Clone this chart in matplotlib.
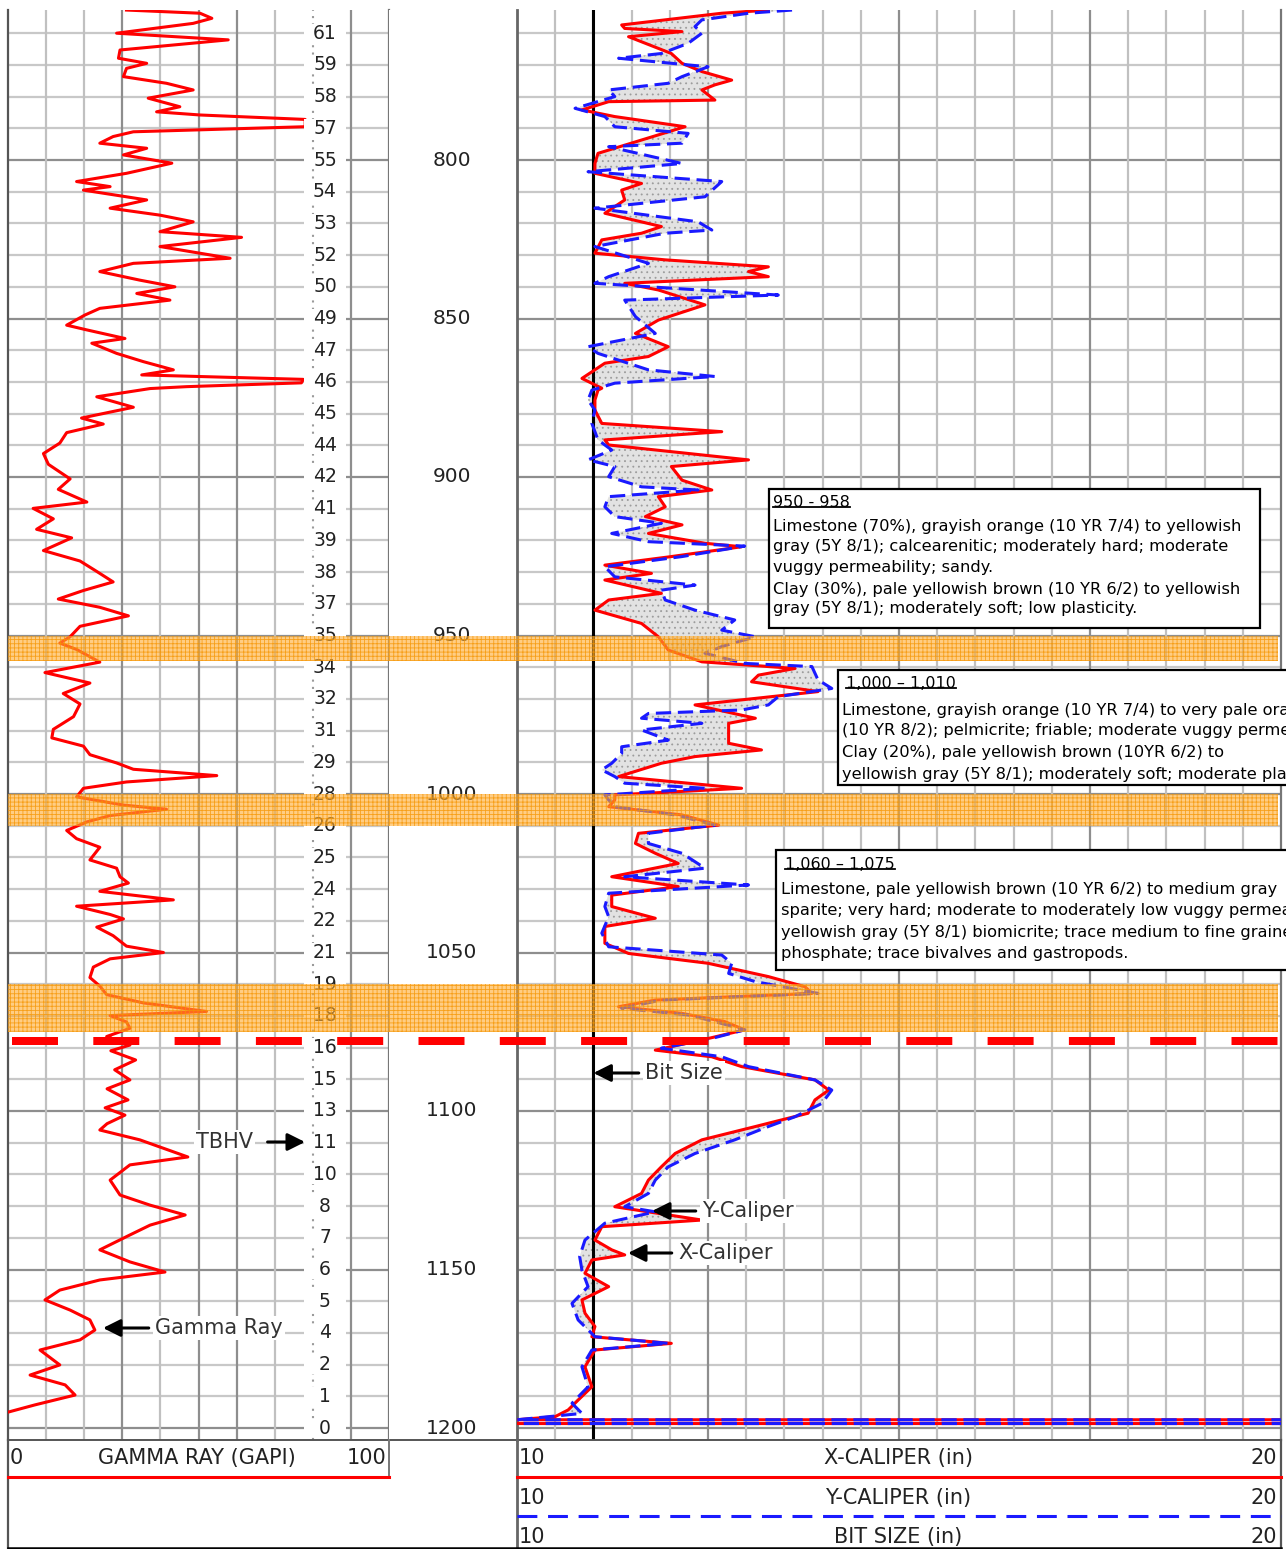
import numpy as np
import matplotlib
matplotlib.use("Agg")
import matplotlib.pyplot as plt
import matplotlib.transforms as mtransforms
from matplotlib.lines import Line2D
from matplotlib.patches import Rectangle, Polygon

plt.rcParams['font.family'] = ['DejaVu Sans']
plt.rcParams['hatch.linewidth'] = 0.6

# ---------------------------------------------------------------- data
DEPTH_LABELS = [800, 850, 900, 950, 1000, 1050, 1100, 1150, 1200]
GRID_DEPTHS = list(range(760, 1201, 10))
ELEV_LABELS = [61, 59, 58, 57, 55, 54, 53, 52, 50, 49, 47, 46, 45, 44, 42,
               41, 39, 38, 37, 35, 34, 32, 31, 29, 28, 26, 25, 24, 22, 21,
               19, 18, 16, 15, 13, 11, 10, 8, 7, 6, 5, 4, 2, 1, 0]

GR_DEPTH = [752.7, 753.7, 755.3, 756.9, 760.0, 762.1, 765.3, 767.9, 769.5, 771.1,
            773.7, 775.8, 777.9, 780.5, 783.2, 784.8, 785.8, 787.2, 789.5, 791.1,
            792.6, 794.7, 796.3, 798.4, 801.0, 804.2, 806.8, 808.4, 809.5, 812.6,
            815.2, 817.4, 819.5, 822.6, 824.4, 827.3, 831.0, 832.6, 835.2, 837.9,
            840.0, 842.1, 844.2, 846.8, 848.9, 852.1, 853.6, 856.3, 857.8, 861.0,
            863.6, 866.2, 867.8, 869.2, 870.3, 871.5, 872.1, 874.7, 878.0, 881.4,
            883.3, 886.0, 889.3, 892.6, 896.0, 900.6, 903.9, 907.9, 909.9, 913.2,
            916.5, 919.2, 923.2, 926.5, 929.8, 933.1, 935.8, 938.5, 941.1, 943.8,
            947.1, 950.4, 952.4, 954.4, 958.4, 961.7, 965.0, 968.3, 971.6, 975.6,
            979.6, 982.3, 984.9, 987.6, 990.2, 992.2, 994.2, 996.2, 998.2, 1000.9,
            1003.5, 1004.8, 1006.8, 1008.8, 1011.5, 1014.1, 1016.8, 1020.8, 1023.4, 1026.1,
            1028.1, 1030.7, 1033.4, 1035.4, 1038.0, 1039.4, 1042.0, 1044.7, 1048.0, 1050.0,
            1052.0, 1054.6, 1057.9, 1060.6, 1063.3, 1065.9, 1068.6, 1069.9, 1071.9, 1073.9,
            1076.5, 1079.2, 1081.0, 1083.9, 1087.0, 1090.2, 1093.0, 1096.5, 1099.0, 1101.3,
            1104.0, 1106.0, 1109.1, 1114.5, 1117.0, 1121.8, 1126.5, 1129.7, 1132.8, 1136.0,
            1139.1, 1143.8, 1147.6, 1150.8, 1153.3, 1156.5, 1159.6, 1162.8, 1165.9, 1169.1,
            1172.2, 1175.4, 1180.1, 1183.3, 1186.4, 1189.6, 1192.7, 1195.0]
GR_API = [31.1, 50.4, 53.5, 48.6, 28.5, 57.8, 29.4, 29.0, 36.4, 31.1,
          30.3, 41.6, 48.6, 36.8, 45.1, 39.0, 50.4, 78.0, 78.0, 32.9,
          27.6, 24.1, 36.4, 30.3, 43.0, 31.1, 18.0, 26.8, 19.8, 36.4,
          26.8, 39.9, 48.6, 39.9, 61.3, 39.9, 58.3, 32.9, 24.1, 34.6,
          43.8, 33.8, 42.5, 24.1, 20.2, 15.4, 20.7, 30.7, 22.0, 28.5,
          35.5, 43.4, 35.1, 77.5, 77.0, 46.9, 37.3, 23.3, 32.9, 19.3,
          25.0, 15.4, 13.6, 9.3, 10.6, 16.3, 13.2, 20.7, 6.6, 11.9,
          7.5, 16.7, 9.3, 18.9, 23.3, 27.6, 19.8, 13.2, 24.1, 31.6,
          18.9, 16.3, 13.6, 18.0, 24.1, 9.7, 21.5, 14.5, 18.9, 17.2,
          11.9, 11.5, 19.8, 21.5, 28.5, 32.9, 54.8, 31.1, 19.8, 18.0,
          30.3, 41.6, 26.8, 20.7, 15.4, 18.0, 24.1, 21.5, 28.5, 29.4,
          31.6, 24.1, 43.4, 18.0, 26.8, 30.3, 23.3, 27.6, 31.1, 40.8,
          26.8, 22.4, 21.5, 24.1, 25.9, 35.5, 52.1, 26.8, 31.1, 32.0,
          25.9, 32.0, 27.0, 33.5, 28.0, 32.0, 26.0, 31.5, 25.5, 30.7,
          26.0, 24.1, 34.6, 47.2, 32.0, 26.8, 29.4, 37.3, 46.5, 37.3,
          32.0, 24.1, 32.0, 41.2, 24.1, 13.6, 9.7, 16.3, 21.5, 22.8,
          18.9, 8.4, 13.6, 5.8, 15.0, 17.6, 7.1, 0.0]

XCAL_DEPTH = [752.7, 753.7, 757.4, 758.5, 759.5, 761.1, 762.7, 766.4, 769.5, 772.1,
              774.8, 776.3, 777.9, 781.1, 781.6, 784.2, 786.3, 789.5, 793.7, 797.9,
              801.1, 804.2, 807.4, 809.5, 812.6, 816.8, 821.0, 823.1, 825.2, 829.4,
              831.5, 833.7, 835.2, 836.8, 838.9, 841.0, 845.7, 850.5, 854.7, 858.9,
              862.0, 864.1, 868.9, 872.0, 872.6, 875.7, 878.9, 883.1, 885.7, 888.3,
              889.9, 894.6, 896.7, 901.0, 904.1, 906.2, 909.4, 912.5, 915.1, 917.8,
              920.9, 922.0, 925.1, 927.8, 930.4, 932.5, 936.7, 938.8, 942.0, 946.2,
              950.4, 954.6, 958.3, 960.4, 962.5, 964.6, 967.7, 971.9, 976.1, 977.7,
              984.0, 986.1, 988.2, 990.3, 994.5, 998.2, 1000.3, 1001.9, 1004.0, 1006.6,
              1009.8, 1012.4, 1015.6, 1018.7, 1021.9, 1026.1, 1029.2, 1031.9, 1035.5, 1039.2,
              1041.8, 1047.1, 1050.3, 1053.4, 1057.6, 1060.8, 1062.9, 1065.0, 1067.1, 1069.2,
              1071.8, 1074.4, 1077.6, 1080.8, 1082.9, 1086.0, 1090.2, 1093.4, 1096.5, 1100.7,
              1104.9, 1109.1, 1113.4, 1117.6, 1121.8, 1126.0, 1130.2, 1134.4, 1136.5, 1140.7,
              1143.8, 1145.4, 1147.0, 1151.2, 1155.4, 1159.6, 1163.8, 1168.0, 1171.2, 1173.3,
              1175.4, 1180.7, 1187.0, 1191.2, 1194.3, 1196.4, 1197.4, 1197.4, 1198.6, 1198.6]
XCAL_IN = [13.29, 12.68, 11.37, 11.41, 12.16, 11.46, 11.63, 12.02, 12.16, 12.42,
           12.81, 12.59, 12.42, 12.59, 11.20, 10.85, 11.28, 12.20, 11.63, 11.06,
           11.02, 11.02, 11.63, 11.37, 11.41, 11.15, 11.89, 11.63, 11.11, 11.02,
           11.94, 13.29, 13.03, 13.29, 11.41, 11.85, 12.46, 11.85, 11.55, 11.98,
           11.72, 11.15, 10.85, 11.11, 11.06, 11.02, 11.02, 11.11, 12.68, 11.15,
           11.20, 13.03, 12.02, 12.16, 12.55, 11.85, 11.94, 11.68, 12.16, 11.72,
           12.46, 12.94, 12.02, 11.15, 11.76, 11.15, 11.89, 11.20, 11.02, 11.63,
           11.85, 11.98, 12.42, 13.64, 13.16, 13.07, 13.94, 12.33, 13.12, 12.77,
           12.77, 13.20, 12.33, 11.89, 11.33, 12.94, 11.28, 11.28, 11.20, 12.16,
           12.64, 11.59, 11.55, 11.81, 12.11, 11.24, 12.11, 11.24, 11.24, 11.81,
           11.15, 11.15, 11.46, 12.50, 13.29, 13.77, 13.86, 11.81, 11.33, 12.16,
           12.72, 12.98, 12.42, 11.81, 12.55, 12.94, 13.90, 14.08, 13.90, 13.81,
           13.12, 12.42, 12.07, 11.89, 11.72, 11.63, 11.28, 12.42, 11.11, 11.02,
           11.24, 11.41, 10.98, 10.89, 11.20, 10.85, 10.89, 11.02, 10.98, 12.02,
           11.02, 10.89, 10.98, 10.80, 10.67, 10.50, 10.00, 20.80, 20.80, 10.00]

YCAL_DEPTH = [752.7, 753.7, 755.8, 757.9, 760.0, 763.2, 766.4, 767.9, 770.6, 773.7,
              775.8, 777.9, 780.0, 783.7, 786.3, 789.5, 791.6, 794.7, 795.8, 801.1,
              803.7, 806.8, 811.6, 815.2, 819.5, 822.1, 823.1, 827.3, 832.6, 836.8,
              838.9, 842.6, 844.2, 849.4, 854.7, 858.9, 861.0, 866.2, 868.3, 870.4,
              872.6, 875.7, 878.9, 883.1, 888.3, 891.5, 894.6, 896.7, 899.9, 903.1,
              904.1, 906.2, 909.4, 912.5, 914.6, 917.8, 920.4, 921.8, 925.1, 928.3,
              931.5, 934.1, 935.7, 938.8, 942.0, 945.1, 948.3, 950.4, 953.5, 955.6,
              958.8, 959.8, 964.0, 966.7, 969.3, 971.9, 973.5, 974.6, 976.1, 977.7,
              979.8, 983.0, 985.1, 987.2, 990.3, 992.4, 994.5, 996.6, 998.2, 1000.3,
              1001.9, 1004.0, 1006.6, 1009.8, 1012.4, 1015.6, 1018.7, 1023.4, 1026.1, 1028.7,
              1031.3, 1035.5, 1038.7, 1043.9, 1048.2, 1050.8, 1053.4, 1056.6, 1059.2, 1062.9,
              1065.0, 1067.6, 1069.7, 1071.8, 1074.4, 1077.1, 1080.2, 1082.9, 1086.0, 1090.2,
              1093.4, 1097.6, 1101.8, 1104.9, 1109.1, 1113.4, 1117.6, 1121.8, 1126.0, 1130.2,
              1131.8, 1135.4, 1140.7, 1145.9, 1150.2, 1155.4, 1160.7, 1165.9, 1171.2, 1173.3,
              1175.4, 1180.7, 1187.0, 1192.2, 1195.4, 1197.4, 1197.4, 1198.6, 1198.6]
YCAL_IN = [13.60, 13.03, 12.42, 12.33, 12.42, 12.24, 11.89, 11.33, 12.50, 12.16,
           11.98, 11.20, 11.28, 10.76, 11.15, 11.28, 12.24, 12.16, 11.20, 12.16,
           10.93, 12.68, 12.46, 11.02, 12.37, 12.55, 11.94, 11.02, 11.72, 11.20,
           11.02, 13.42, 11.41, 11.55, 11.81, 10.93, 11.06, 11.72, 12.59, 11.28,
           10.98, 10.93, 11.02, 10.98, 11.06, 11.24, 10.93, 11.28, 11.20, 11.63,
           12.37, 11.20, 11.15, 11.28, 11.89, 11.24, 11.72, 12.98, 12.16, 11.15,
           11.28, 12.33, 11.89, 11.94, 12.33, 12.85, 12.68, 13.12, 12.68, 12.46,
           12.98, 13.86, 13.94, 14.12, 13.42, 13.29, 12.94, 11.72, 11.63, 12.42,
           11.63, 11.98, 11.37, 11.37, 11.24, 11.11, 11.28, 11.41, 12.46, 11.15,
           11.20, 11.28, 12.07, 12.59, 11.72, 11.72, 12.16, 12.46, 11.41, 13.03,
           11.20, 11.15, 11.20, 11.11, 11.20, 12.68, 12.81, 12.77, 13.12, 13.94,
           11.89, 11.37, 12.24, 12.59, 12.98, 12.55, 11.89, 12.68, 13.03, 13.90,
           14.12, 13.99, 13.64, 13.29, 12.85, 12.33, 11.98, 11.81, 11.72, 11.41,
           11.81, 11.15, 10.89, 10.82, 10.85, 10.93, 10.72, 10.80, 11.02, 11.98,
           10.98, 10.85, 10.93, 10.72, 10.85, 10.00, 20.80, 20.80, 10.00]

BIT_SIZE_IN = 11.0
SAMPLED_ZONES = [(950, 958), (1000, 1010), (1060, 1075)]
TBHV_DEPTH = 1078.0

NOTE_TITLES = ["950 - 958", "1,000 \u2013 1,010", "1,060 \u2013 1,075"]
NOTE_LINES = [
    ["Limestone (70%), grayish orange (10 YR 7/4) to yellowish",
     "gray (5Y 8/1); calcearenitic; moderately hard; moderate",
     "vuggy permeability; sandy.",
     "Clay (30%), pale yellowish brown (10 YR 6/2) to yellowish",
     "gray (5Y 8/1); moderately soft; low plasticity."],
    ["Limestone, grayish orange (10 YR 7/4) to very pale orange",
     "(10 YR 8/2); pelmicrite; friable; moderate vuggy permeability;",
     "Clay (20%), pale yellowish brown (10YR 6/2) to",
     "yellowish gray (5Y 8/1); moderately soft; moderate plasticity."],
    ["Limestone, pale yellowish brown (10 YR 6/2) to medium gray",
     "sparite; very hard; moderate to moderately low vuggy permeability;",
     "yellowish gray (5Y 8/1) biomicrite; trace medium to fine grained",
     "phosphate; trace bivalves and gastropods."],
]

# ---------------------------------------------------------------- layout
W, H = 1286, 1549
fig = plt.figure(figsize=(W / 100, H / 100), dpi=100)
fig.patch.set_facecolor('white')


def fx(x):
    return x / W


def fy(y):
    return 1 - y / H


def cal_x(px):
    return 10 + (px - CAL_L) / 76.4


def dep(py):
    return 800 + (py - 160) / 3.17


def gr_x(px):
    return (px - GR_L) / 3.81


TOP_PX, BOT_PX = 10, 1440
GR_L, GR_R, CAL_L, CAL_R = 8, 389, 517, 1281
top_depth = dep(TOP_PX)
bot_depth = dep(BOT_PX)

ax_gr = fig.add_axes([fx(GR_L), fy(BOT_PX), (GR_R - GR_L) / W, (BOT_PX - TOP_PX) / H])
ax_dp = fig.add_axes([fx(GR_R), fy(BOT_PX), (CAL_L - GR_R) / W, (BOT_PX - TOP_PX) / H],
                     sharey=ax_gr)
ax_cal = fig.add_axes([fx(CAL_L), fy(BOT_PX), (CAL_R - CAL_L) / W, (BOT_PX - TOP_PX) / H],
                      sharey=ax_gr)
ax_gr.set_ylim(bot_depth, top_depth)
ax_gr.set_xlim(0, 100)
ax_dp.set_xlim(0, 1)
ax_cal.set_xlim(10, 20)

for ax in (ax_gr, ax_dp, ax_cal):
    ax.tick_params(left=False, bottom=False, labelleft=False, labelbottom=False)
    for s in ax.spines.values():
        s.set_visible(False)
for ax, side, col, lw in [(ax_gr, 'left', '#555555', 1.6), (ax_gr, 'right', '#777777', 1.6),
                          (ax_cal, 'left', '#666666', 2.0), (ax_cal, 'right', '#777777', 1.6)]:
    ax.spines[side].set_visible(True)
    ax.spines[side].set_color(col)
    ax.spines[side].set_linewidth(lw)

# ---------------------------------------------------------------- grids
for d in GRID_DEPTHS:
    major = d % 50 == 0
    for ax in (ax_gr, ax_cal):
        ax.axhline(d, color='#8e8e8e' if major else '#c8c8c8', lw=1.6, zorder=1)

gr_major = {30, 50, 60, 90}
for g in range(10, 100, 10):
    if g == 80:
        ax_gr.axvline(g, color='#9a9a9a', lw=1.5, ls=(0, (1, 2.5)), zorder=1)
    else:
        ax_gr.axvline(g, color='#8e8e8e' if g in gr_major else '#c0c0c0', lw=1.6, zorder=1)

for c in np.arange(10.5, 20.0, 0.5):
    major = abs((c - 10) % 2.5) < 1e-6
    ax_cal.axvline(c, color='#8e8e8e' if major else '#c0c0c0', lw=1.6, zorder=1)

# ---------------------------------------------------------------- gamma ray track
ax_gr.plot(GR_API, GR_DEPTH, color='#ff0000', lw=2.2, zorder=3, solid_joinstyle='round')

for d, lab in zip(GRID_DEPTHS, ELEV_LABELS):
    ax_gr.add_patch(Rectangle((77.8, d - 2.9), 11.0, 5.8, facecolor='white',
                              edgecolor='none', zorder=4))
    ax_gr.text(83.2, d, str(lab), ha='center', va='center', fontsize=13.5,
               color='#222222', zorder=5)

# ---------------------------------------------------------------- depth track
for d in DEPTH_LABELS:
    ax_dp.text(0.49, d, str(d), ha='center', va='center', fontsize=14.5,
               color='#222222', zorder=5)

# ---------------------------------------------------------------- caliper track
xd, xv = np.asarray(XCAL_DEPTH), np.asarray(XCAL_IN)
yd, yv = np.asarray(YCAL_DEPTH), np.asarray(YCAL_IN)
fill = Polygon(np.column_stack([np.r_[xv, yv[::-1]], np.r_[xd, yd[::-1]]]),
               closed=True, facecolor='#e2e2e2', edgecolor='#9c9c9c', hatch='...',
               lw=0, zorder=2)
ax_cal.add_patch(fill)
ax_cal.axvline(BIT_SIZE_IN, color='black', lw=2.2, zorder=2.5)
ax_cal.plot(xv, xd, color='#ff0000', lw=2.2, zorder=3, solid_joinstyle='round')
ax_cal.plot(yv, yd, color='#1a1aff', lw=2.2, zorder=4, dashes=(5, 2.2))

# ---------------------------------------------------------------- zones and marker
blend = mtransforms.blended_transform_factory(fig.transFigure, ax_gr.transData)
for z0, z1 in SAMPLED_ZONES:
    fig.add_artist(Rectangle((fx(8), z0), fx(1278) - fx(8), z1 - z0, transform=blend,
                             facecolor=(1.0, 0.68, 0.2, 0.6),
                             edgecolor=(0.96, 0.58, 0.0, 0.8), hatch='++++',
                             lw=0, zorder=6))

lw_px = 8
fig.add_artist(Line2D([fx(12), fx(1281)], [TBHV_DEPTH, TBHV_DEPTH], transform=blend,
                      color='#ff0000', lw=lw_px * 0.72,
                      dashes=(46 / lw_px, 35.3 / lw_px), dash_capstyle='butt',
                      zorder=7))

# ---------------------------------------------------------------- callouts
arrow_kw = dict(arrowstyle='-|>,head_length=0.7,head_width=0.35', color='black',
                lw=2.2, mutation_scale=15, shrinkA=3, shrinkB=0)
txt_kw = dict(fontsize=15, color='#333333', va='center',
              bbox=dict(boxstyle='square,pad=0.1', fc='white', ec='none'), zorder=8)

ax_gr.annotate('TBHV', xy=(gr_x(305), dep(1142)), xytext=(gr_x(253), dep(1142)),
               ha='right', arrowprops=dict(arrow_kw, shrinkA=9), **txt_kw)
ax_gr.annotate('Gamma Ray', xy=(gr_x(103), dep(1328)), xytext=(gr_x(155), dep(1328)),
               ha='left', arrowprops=arrow_kw, **txt_kw)
ax_cal.annotate('Bit Size', xy=(BIT_SIZE_IN, dep(1073)), xytext=(cal_x(645), dep(1073)),
                ha='left', arrowprops=arrow_kw, **txt_kw)
ax_cal.annotate('Y-Caliper', xy=(cal_x(652), dep(1211)), xytext=(cal_x(702), dep(1211)),
                ha='left', arrowprops=arrow_kw, **txt_kw)
ax_cal.annotate('X-Caliper', xy=(cal_x(628), dep(1253)), xytext=(cal_x(678), dep(1253)),
                ha='left', arrowprops=arrow_kw, **txt_kw)

# ---------------------------------------------------------------- description boxes
boxes = [(769, 489, 1260, 628), (838, 670, 1300, 785), (776, 850, 1300, 970)]
title_pos = [(773, 502), (846, 683), (785, 864)]
line_x = [773, 842, 781]
line_y = [[526, 546, 567, 589, 609], [710, 731, 752, 774], [890, 911, 932, 954]]
titles = []
for (x0, y0, x1, y1), (tx, ty), lx, lys, title, lines in zip(
        boxes, title_pos, line_x, line_y, NOTE_TITLES, NOTE_LINES):
    fig.add_artist(Rectangle((fx(x0), fy(y1)), (x1 - x0) / W, (y1 - y0) / H,
                             transform=fig.transFigure, facecolor='white',
                             edgecolor='black', lw=1.6, zorder=9))
    titles.append(fig.text(fx(tx), fy(ty), title, ha='left', va='center',
                           fontsize=11.5, color='black', zorder=10))
    for ly, line in zip(lys, lines):
        fig.text(fx(lx), fy(ly), line, ha='left', va='center', fontsize=11.7,
                 color='black', zorder=10)


# ---------------------------------------------------------------- header / scale block
def hline(x0, x1, y, **kw):
    fig.add_artist(Line2D([fx(x0), fx(x1)], [fy(y), fy(y)], transform=fig.transFigure, **kw))


def vline(x, y0, y1, **kw):
    fig.add_artist(Line2D([fx(x), fx(x)], [fy(y0), fy(y1)], transform=fig.transFigure, **kw))


hline(GR_L, CAL_R, BOT_PX, color='#555555', lw=1.4, zorder=5)
vline(GR_L, BOT_PX, 1548, color='#555555', lw=1.6, zorder=5)
vline(GR_R, BOT_PX, 1477, color='#777777', lw=1.4, zorder=5)
vline(CAL_L, BOT_PX, 1548, color='#666666', lw=2.0, zorder=5)
vline(CAL_R, BOT_PX, 1548, color='#555555', lw=1.6, zorder=5)
hline(GR_L, CAL_R, 1547.5, color='black', lw=1.8, zorder=5)

hdr = dict(fontsize=15, color='#222222', va='center')
fig.text(fx(10), fy(1458), '0', ha='left', **hdr)
fig.text(fx(197), fy(1458), 'GAMMA RAY (GAPI)', ha='center', **hdr)
fig.text(fx(386), fy(1458), '100', ha='right', **hdr)
hline(GR_L, GR_R, 1477, color='#ff0000', lw=2.2, zorder=5)

for y, name in [(1458, 'X-CALIPER (in)'), (1498, 'Y-CALIPER (in)'), (1537, 'BIT SIZE (in)')]:
    fig.text(fx(519), fy(y), '10', ha='left', **hdr)
    fig.text(fx(898), fy(y), name, ha='center', **hdr)
    fig.text(fx(1277), fy(y), '20', ha='right', **hdr)
hline(CAL_L, CAL_R, 1477, color='#ff0000', lw=2.2, zorder=5)
hline(CAL_L, CAL_R, 1516, color='#1a1aff', lw=2.2, dashes=(6.5, 3.5), zorder=5)

# underline the interval titles
fig.canvas.draw()
renderer = fig.canvas.get_renderer()
for t in titles:
    bb = t.get_window_extent(renderer)
    yline = (bb.y0 + 2.5) / H
    fig.add_artist(Line2D([bb.x0 / W, bb.x1 / W], [yline, yline],
                          transform=fig.transFigure, color='black', lw=1.3, zorder=10))

fig.savefig('out.png', dpi=100, facecolor='white')
